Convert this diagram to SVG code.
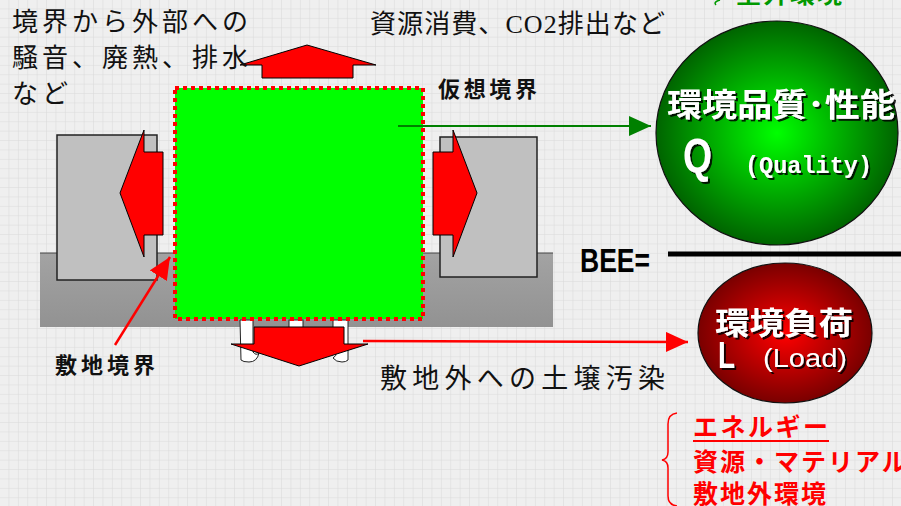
<svg xmlns="http://www.w3.org/2000/svg" width="901" height="506" viewBox="0 0 901 506">
<defs>
<pattern id="grid" width="9.4" height="9.4" patternUnits="userSpaceOnUse">
<rect width="9.4" height="9.4" fill="#efefef"/>
<path d="M9.4 0V9.4M0 9.4H9.4" stroke="#dadada" stroke-width="1" fill="none"/>
</pattern>
<linearGradient id="ground" x1="0" y1="0" x2="0" y2="1">
<stop offset="0" stop-color="#a3a3a3"/>
<stop offset="1" stop-color="#929292"/>
</linearGradient>
<radialGradient id="gq" cx="0.5" cy="0.5" r="0.5">
<stop offset="0" stop-color="#00ff00"/>
<stop offset="1" stop-color="#006400"/>
</radialGradient>
<radialGradient id="gl" cx="0.5" cy="0.5" r="0.5">
<stop offset="0" stop-color="#ff0000"/>
<stop offset="1" stop-color="#7a0000"/>
</radialGradient>
<filter id="sh" x="-10%" y="-20%" width="130%" height="150%">
<feDropShadow dx="2" dy="2" stdDeviation="0.4" flood-color="#000" flood-opacity="0.85"/>
</filter>
<marker id="ag" markerWidth="22" markerHeight="20" refX="22" refY="10" orient="auto" markerUnits="userSpaceOnUse" viewBox="0 0 22 20">
<path d="M0 0L22 10L0 20z" fill="#008000"/>
</marker>
<marker id="ar" markerWidth="22" markerHeight="20" refX="22" refY="10" orient="auto" markerUnits="userSpaceOnUse" viewBox="0 0 22 20">
<path d="M0 0L22 10L0 20z" fill="#ff0000"/>
</marker>
<style>
.jp{font-family:"Noto Sans CJK JP","Noto Sans CJK SC",sans-serif}
.blk{fill:#111}
.bold{font-weight:bold}
.wt{fill:#fff;filter:url(#sh)}
.red{fill:#ff0000}
.arrow{fill:#ff0000;stroke:#000;stroke-width:1;stroke-linejoin:miter}
.bldg{fill:#c0c0c0;stroke:#222;stroke-width:1.5}
.pipe{fill:#fff;stroke:#222;stroke-width:1}
</style>
</defs>
<rect width="901" height="506" fill="url(#grid)"/>

<g id="ground">
<rect x="40" y="253" width="513" height="74" fill="url(#ground)"/>
<line x1="40" y1="253" x2="553" y2="253" stroke="#444" stroke-width="1"/>
</g>

<g id="building-left">
<rect class="bldg" x="57" y="135" width="100" height="145"/>
</g>
<g id="building-right">
<rect class="bldg" x="440" y="137" width="97" height="140"/>
</g>

<g id="pipes">
<path class="pipe" d="M240 320H253V352Q256 356 259 353Q257 362 249 362Q243 362 241 360Z"/>
<path class="pipe" d="M333 320H348V360Q346 362 342 362Q336 362 333 358Q337 356 336 352H333Z"/>
<rect class="pipe" x="289" y="320" width="14" height="8"/>
</g>

<g id="virtual-boundary">
<rect x="175" y="88" width="248" height="231" fill="#00ff00" stroke="#ff0000" stroke-width="4" stroke-dasharray="4 4"/>
<text class="jp bold blk" x="438" y="97" font-size="22" textLength="99">仮想境界</text>
</g>

<g id="arrow-up">
<path class="arrow" d="M262 78V65H240L307 45L376 65H353V78Z"/>
</g>
<g id="arrow-left">
<path class="arrow" d="M163 152H144V130L120 193L144 257V235H163Z"/>
</g>
<g id="arrow-right">
<path class="arrow" d="M433 152H453V130L477 193L453 257V235H433Z"/>
</g>
<g id="arrow-down">
<path class="arrow" d="M254 327H344V344H368L299 366L231 344H254Z"/>
</g>

<g id="connectors">
<line x1="398" y1="126" x2="651" y2="126" stroke="#008000" stroke-width="2" marker-end="url(#ag)"/>
<line x1="363" y1="341" x2="688" y2="342" stroke="#ff0000" stroke-width="2.5" marker-end="url(#ar)"/>
<line x1="115" y1="345" x2="170" y2="257" stroke="#ff0000" stroke-width="2.5" marker-end="url(#ar)"/>
</g>

<g id="label-emissions">
<text class="jp blk" font-size="26" letter-spacing="4"><tspan x="12" y="31">境界から外部への</tspan><tspan x="12" y="67">騒音、廃熱、排水</tspan><tspan x="12" y="103">など</tspan></text>
</g>
<g id="label-resources">
<text class="jp blk" x="370" y="33" font-size="26" textLength="295">資源消費、<tspan font-family="Liberation Serif,serif">CO2</tspan>排出など</text>
</g>
<g id="label-soil">
<text class="jp blk" x="380" y="388" font-size="27" textLength="285">敷地外への土壌汚染</text>
</g>
<g id="label-site">
<text class="jp bold blk" x="55" y="373" font-size="22" textLength="100">敷地境界</text>
</g>

<g id="node-Q">
<ellipse cx="777" cy="133" rx="121" ry="112" fill="url(#gq)" stroke="#111" stroke-width="1.2"/>
<text class="jp bold wt" x="667" y="116" font-size="32" textLength="228" lengthAdjust="spacingAndGlyphs">環境品質･性能</text>
<text class="wt" x="683" y="172" font-size="48" font-weight="bold" font-family="Liberation Sans,sans-serif" textLength="29" lengthAdjust="spacingAndGlyphs">Q</text>
<text class="wt" x="745" y="173" font-size="23" font-weight="bold" font-family="Liberation Mono,monospace" textLength="127" lengthAdjust="spacingAndGlyphs">(Quality)</text>
</g>

<g id="bee">
<text x="580" y="272" font-size="33" font-family="Liberation Sans,sans-serif" font-weight="bold" fill="#000" textLength="70" lengthAdjust="spacingAndGlyphs">BEE=</text>
<line x1="668" y1="254" x2="901" y2="254" stroke="#000" stroke-width="5"/>
</g>

<g id="node-L">
<ellipse cx="785" cy="333" rx="87" ry="70" fill="url(#gl)" stroke="#111" stroke-width="1.2"/>
<text class="jp bold wt" x="715" y="334" font-size="31" textLength="138" lengthAdjust="spacingAndGlyphs">環境負荷</text>
<text class="wt" x="718" y="368" font-size="37" font-weight="bold" font-family="Liberation Sans,sans-serif" textLength="17" lengthAdjust="spacingAndGlyphs">L</text>
<text class="wt" x="763" y="367" font-size="25" font-family="Liberation Sans,sans-serif" textLength="84" lengthAdjust="spacingAndGlyphs">(Load)</text>
</g>

<g id="load-list">
<path d="M677 413Q668 414 668 424V452Q668 459 662 460Q668 461 668 468V496Q668 505 677 506" fill="none" stroke="#ff0000" stroke-width="1.5"/>
<text class="jp bold red" x="693" y="436" font-size="25" textLength="135">エネルギー</text>
<line x1="693" y1="441" x2="829" y2="441" stroke="#ff0000" stroke-width="2"/>
<text class="jp bold red" x="693" y="471" font-size="25" letter-spacing="2">資源・マテリアル</text>
<text class="jp bold red" x="693" y="503" font-size="25" letter-spacing="2">敷地外環境</text>
</g>

<g id="quality-list">
<path d="M720 0Q713 2 716 5" fill="none" stroke="#009900" stroke-width="1.5"/>
<text class="jp bold" x="736" y="3" font-size="25" letter-spacing="2" fill="#009900">室外環境</text>
</g>
</svg>
